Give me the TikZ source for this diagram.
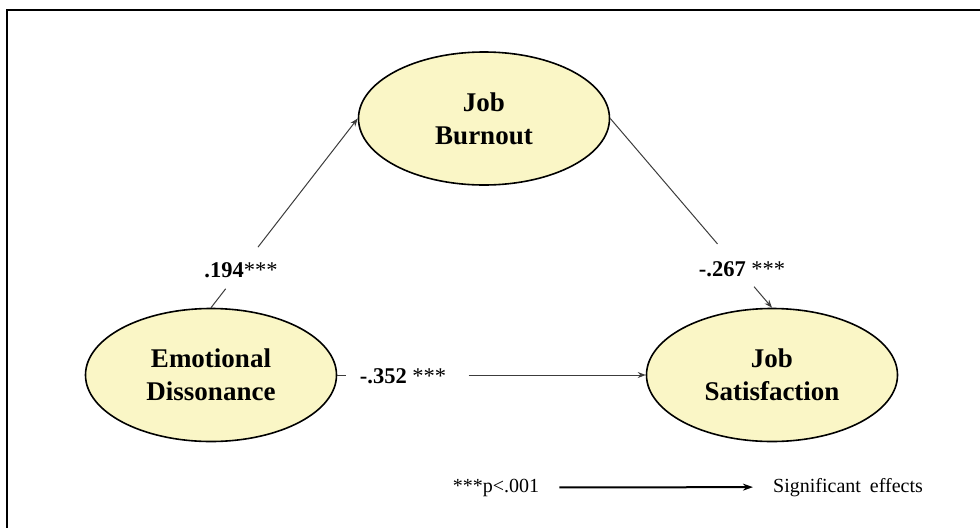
\documentclass[tikz,border=0pt]{standalone}
\usepackage{fontspec}
\setmainfont{Liberation Serif}
\usetikzlibrary{shapes.geometric,arrows.meta,calc}
\definecolor{nodefill}{RGB}{250,246,198}
\definecolor{edgecol}{RGB}{60,60,60}
\begin{document}
\begin{tikzpicture}[x=1pt,y=-1pt,
 latent/.style={ellipse,draw=black,line width=1.6pt,fill=nodefill,minimum width=251pt,minimum height=133pt,inner sep=0pt,align=center,font=\fontsize{27}{33}\selectfont\bfseries},
 pathline/.style={draw=edgecol,line width=1pt},
 patharrow/.style={pathline,-{Stealth[length=8pt,width=6pt]}},
 coef/.style={anchor=base,inner sep=0pt,font=\fontsize{22.5}{27}\selectfont},
 legendtext/.style={anchor=base,inner sep=0pt,font=\fontsize{20}{24}\selectfont},
 legendarrow/.style={draw=black,line width=2pt,-{Stealth[length=10pt,width=7pt]}}]
\useasboundingbox (0,0) rectangle (980,528);
\draw[line width=2pt] (980,10) -- (7,10) -- (7,528);

\node[latent] (JB) at (484,118.5) {Job\\Burnout};
\node[latent] (ED) at (211,375) {Emotional\\Dissonance};
\node[latent] (JS) at (772,375) {Job\\Satisfaction};

\coordinate (a1) at ($(ED.north)!0.1!(JB.west)$);
\coordinate (a2) at ($(ED.north)!0.32!(JB.west)$);
\draw[pathline] (ED.north) -- (a1);
\draw[patharrow] (a2) -- (JB.west);

\coordinate (b1) at ($(JB.east)!0.663!(JS.north)$);
\coordinate (b2) at ($(JB.east)!0.889!(JS.north)$);
\draw[pathline] (JB.east) -- (b1);
\draw[patharrow] (b2) -- (JS.north);

\coordinate (c1) at ($(ED.east)!0.029!(JS.west)$);
\coordinate (c2) at ($(ED.east)!0.426!(JS.west)$);
\draw[pathline] (ED.east) -- (c1);
\draw[patharrow] (c2) -- (JS.west);

\node[coef] (l1) at (241,277) {\textbf{.194}***};
\node[coef] (l2) at (742,276) {\textbf{-.267} ***};
\node[coef] (l3) at (403,383) {\textbf{-.352} ***};

\node[legendtext] (lg1) at (496,492) {***p<.001};
\node[legendtext] (lg2) at (848,492) {Significant\hspace{9pt}effects};
\draw[legendarrow] ([xshift=20pt]lg1.east) -- ([xshift=-20pt]lg2.west);
\end{tikzpicture}
\end{document}
